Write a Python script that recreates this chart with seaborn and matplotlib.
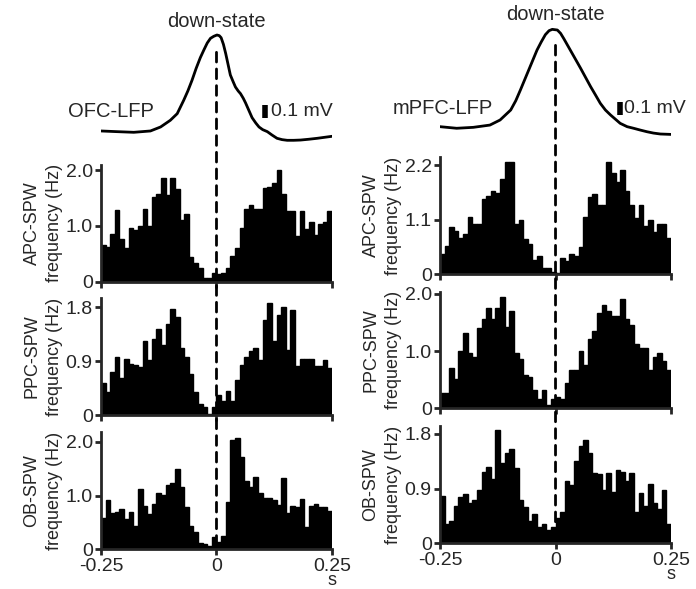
import numpy as np
import pandas as pd
import seaborn as sns
import matplotlib.pyplot as plt
from matplotlib.patches import ConnectionPatch

# bin layout: 10 ms bins from -0.25 to 0.25 s
n_bins = 50
edges = np.linspace(-0.25, 0.25, n_bins + 1)
centers = (edges[:-1] + edges[1:]) / 2

# SPW rate histograms (Hz)
ofc_apc = [0.66, 0.63, 0.85, 1.28, 0.76, 0.60, 0.97, 0.92, 1.00, 1.31, 1.00, 1.51, 1.57,
           1.85, 1.55, 1.85, 1.66, 1.10, 1.22, 0.44, 0.33, 0.25, 0.06, 0.06, 0.15,
           0.14, 0.15, 0.25, 0.46, 0.60, 0.97, 1.31, 1.38, 1.31, 1.30, 1.67, 1.70, 1.77,
           2.01, 1.58, 1.27, 1.27, 0.81, 1.27, 0.95, 1.07, 0.83, 1.03, 1.07, 1.27]
ofc_ppc = [0.53, 0.39, 0.72, 0.97, 0.62, 0.94, 0.85, 0.83, 0.80, 1.23, 0.91, 1.26, 1.44,
           1.16, 1.51, 1.76, 1.63, 1.12, 0.97, 0.68, 0.39, 0.18, 0.14, 0.02, 0.14,
           0.33, 0.24, 0.40, 0.24, 0.59, 0.83, 0.97, 1.06, 1.12, 0.91, 1.58, 1.86, 1.23,
           1.66, 1.80, 1.09, 1.75, 0.81, 0.94, 0.94, 0.94, 0.81, 0.81, 0.91, 0.78]
ofc_ob = [0.59, 0.92, 0.67, 0.70, 0.75, 0.56, 0.69, 0.43, 1.13, 0.80, 0.66, 0.84, 1.04,
          1.01, 1.20, 1.24, 1.50, 1.16, 0.78, 0.43, 0.33, 0.12, 0.10, 0.06, 0.22,
          0.14, 0.24, 0.89, 2.04, 2.08, 1.72, 1.28, 1.16, 1.35, 1.04, 0.95, 0.95, 0.92,
          0.82, 1.32, 0.67, 0.81, 0.78, 0.93, 0.41, 0.81, 0.84, 0.78, 0.78, 0.71]
mpfc_apc = [0.41, 0.57, 0.96, 0.87, 0.73, 0.81, 1.16, 1.01, 1.01, 1.52, 1.57, 1.67, 1.64,
            1.92, 2.26, 2.26, 1.02, 1.10, 0.71, 0.61, 0.28, 0.37, 0.12, 0.12, 0.05,
            0.02, 0.32, 0.27, 0.40, 0.37, 0.54, 1.16, 1.55, 1.62, 1.40, 1.40, 2.26, 2.04,
            1.85, 2.11, 1.67, 1.40, 1.14, 1.40, 0.97, 1.10, 0.85, 1.01, 1.01, 0.73]
mpfc_ppc = [0.26, 0.26, 0.71, 0.51, 1.01, 1.31, 0.96, 0.90, 1.41, 1.56, 1.75, 1.56, 1.75,
            1.95, 1.43, 1.70, 0.97, 0.86, 0.59, 0.55, 0.32, 0.16, 0.32, 0.06, 0.16,
            0.20, 0.17, 0.45, 0.67, 0.67, 1.01, 0.76, 1.21, 1.35, 1.66, 1.81, 1.71, 1.62,
            1.62, 1.91, 1.57, 1.46, 1.12, 1.06, 1.06, 0.67, 0.90, 0.97, 0.82, 0.67]
mpfc_ob = [0.77, 0.32, 0.37, 0.62, 0.76, 0.81, 0.67, 0.71, 0.88, 1.17, 1.26, 1.06, 1.86,
           1.32, 1.48, 1.55, 1.24, 0.71, 0.60, 0.37, 0.49, 0.26, 0.32, 0.22, 0.27,
           0.41, 0.52, 1.02, 0.96, 1.36, 1.60, 1.70, 1.48, 1.16, 1.14, 0.88, 1.16, 0.84,
           1.21, 1.18, 1.02, 1.16, 0.52, 0.82, 0.62, 0.97, 0.67, 0.56, 0.87, 0.32]

# average LFP around down-state (s, mV)
ofc_t = [-0.25, -0.216, -0.179, -0.143, -0.121, -0.10, -0.085, -0.071, -0.062, -0.053,
         -0.044, -0.035, -0.027, -0.02, -0.013, -0.006, 0.001, 0.006, 0.01, 0.015, 0.02,
         0.025, 0.03, 0.036, 0.041, 0.047, 0.052, 0.058, 0.063, 0.07, 0.077, 0.085, 0.092,
         0.10, 0.11, 0.12, 0.131, 0.142, 0.153, 0.167, 0.182, 0.2, 0.218, 0.235, 0.25]
ofc_v = [0.0, -0.005, -0.01, 0.0, 0.03, 0.08, 0.13, 0.23, 0.30, 0.38,
         0.47, 0.55, 0.61, 0.66, 0.695, 0.71, 0.72, 0.715, 0.70, 0.65, 0.58,
         0.50, 0.42, 0.37, 0.33, 0.30, 0.28, 0.245, 0.21, 0.155, 0.10, 0.06, 0.03,
         0.01, -0.005, -0.03, -0.055, -0.065, -0.07, -0.07, -0.068, -0.062, -0.055, -0.047, -0.04]
mpfc_t = [-0.25, -0.214, -0.178, -0.142, -0.12, -0.097, -0.086, -0.076, -0.067, -0.058,
          -0.049, -0.04, -0.031, -0.022, -0.014, -0.007, 0.004, 0.011, 0.018, 0.027,
          0.036, 0.045, 0.054, 0.065, 0.076, 0.087, 0.097, 0.108, 0.119, 0.13, 0.14,
          0.155, 0.169, 0.183, 0.198, 0.212, 0.227, 0.25]
mpfc_v = [0.0, -0.012, -0.005, 0.012, 0.05, 0.125, 0.195, 0.275, 0.35, 0.425,
          0.50, 0.575, 0.635, 0.69, 0.72, 0.73, 0.725, 0.70, 0.66, 0.605,
          0.55, 0.495, 0.44, 0.37, 0.30, 0.235, 0.175, 0.125, 0.088, 0.055, 0.025,
          0.0, -0.012, -0.025, -0.038, -0.048, -0.055, -0.058]

sns.set_style('ticks')
plt.rcParams['font.family'] = ['Liberation Sans', 'DejaVu Sans']

fig = plt.figure(figsize=(6.96, 5.89), dpi=100)

columns = [
    dict(x0=0.1451, lfp=(0.755, ofc_t, ofc_v, 'OFC-LFP', -0.228, 0.145, 0.105, 0.118, 0.82, 0.59),
         panels=[(0.5217, 0.1981, 2.09, ofc_apc, 'APC-SPW', [0, 1.0, 2.0], ['0', '1.0', '2.0']),
                 (0.2954, 0.1986, 1.95, ofc_ppc, 'PPC-SPW', [0, 0.9, 1.8], ['0', '0.9', '1.8']),
                 (0.0674, 0.1997, 2.19, ofc_ob, 'OB-SPW', [0, 1.0, 2.0], ['0', '1.0', '2.0'])]),
    dict(x0=0.6322, lfp=(0.7623, mpfc_t, mpfc_v, 'mPFC-LFP', -0.245, 0.1375, 0.139, 0.148, 0.84, 0.61),
         panels=[(0.5343, 0.1997, 2.37, mpfc_apc, 'APC-SPW', [0, 1.1, 2.2], ['0', '1.1', '2.2']),
                 (0.3068, 0.1980, 2.04, mpfc_ppc, 'PPC-SPW', [0, 1.0, 2.0], ['0', '1.0', '2.0']),
                 (0.0776, 0.1992, 1.93, mpfc_ob, 'OB-SPW', [0, 0.9, 1.8], ['0', '0.9', '1.8'])]),
]
W = 0.3319

for col in columns:
    x0 = col['x0']
    lb, lt, lv, lname, lname_t, lname_v, bar_t, bar_txt_t, ds_v, dash_top = col['lfp']

    # LFP trace
    ax_l = fig.add_axes([x0, lb, W, 0.2037])
    sns.lineplot(x=lt, y=lv, color='black', linewidth=2, ax=ax_l)
    ax_l.set_xlim(-0.25, 0.25)
    ax_l.set_ylim(-0.1, 0.8)
    ax_l.axis('off')
    ax_l.plot([bar_t, bar_t], [lname_v - 0.05, lname_v + 0.05], color='black',
              lw=4, solid_capstyle='butt')
    ax_l.text(bar_txt_t, lname_v, '0.1 mV', fontsize=14, va='center', ha='left')
    ax_l.text(lname_t, lname_v, lname, fontsize=14.5, va='center', ha='center')
    ax_l.text(0, ds_v, 'down-state', fontsize=14.5, va='center', ha='center')

    axes = []
    for i, (b, h, top, vals, name, yt, ytl) in enumerate(col['panels']):
        ax = fig.add_axes([x0, b, W, h])
        df = pd.DataFrame({'t': centers, 'rate': vals})
        sns.histplot(data=df, x='t', weights='rate', bins=n_bins, binrange=(-0.25, 0.25),
                     color='black', alpha=1, edgecolor='black', linewidth=1, ax=ax)
        ax.set_xlim(-0.25, 0.25)
        ax.set_ylim(0, top)
        sns.despine(ax=ax)
        for s in ['left', 'bottom']:
            ax.spines[s].set_linewidth(2)
        ax.set_yticks(yt)
        ax.set_yticklabels(ytl)
        ax.set_xticks([-0.25, 0, 0.25])
        ax.tick_params(axis='both', width=2, length=4.5, pad=1.5, labelsize=14)
        ax.set_xlabel('')
        ax.set_ylabel(name + '\nfrequency (Hz)', fontsize=13, labelpad=2, linespacing=1.4)
        if i < 2:
            ax.set_xticklabels([])
        else:
            ax.set_xticklabels(['-0.25', '0', '0.25'])
            ax.annotate('s', xy=(1, 0), xycoords='axes fraction', xytext=(0, -26),
                        textcoords='offset points', ha='center', va='baseline', fontsize=13)
        axes.append(ax)

    # dashed down-state marker through all panels
    con = ConnectionPatch(xyA=(0, dash_top), coordsA=ax_l.transData,
                          xyB=(0, 0), coordsB=axes[-1].transData,
                          color='black', lw=2, linestyle=(0, (3.5, 2.5)), zorder=10)
    fig.add_artist(con)

fig.savefig('out.png', dpi=100)
